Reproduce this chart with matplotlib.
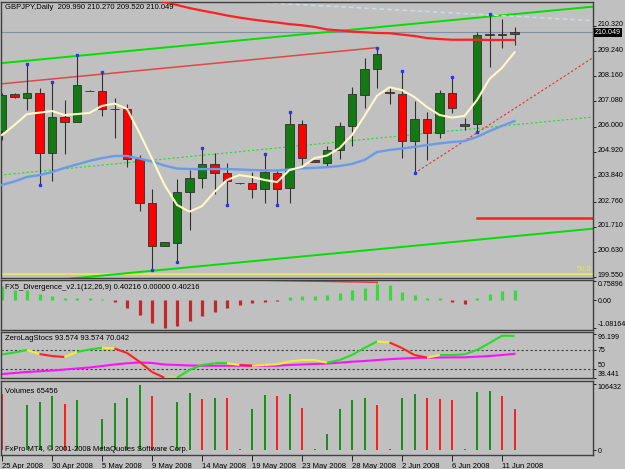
import numpy as np
import matplotlib
matplotlib.use('Agg')
import matplotlib.pyplot as plt
from matplotlib.collections import LineCollection
from matplotlib.transforms import ScaledTranslation

plt.rcParams['font.family'] = ['Liberation Sans', 'DejaVu Sans']

W, H = 625, 469
BG = '#C0C0C0'
FS = 5.5
TFS = 5.1  # right-hand scale labels, narrow column

# daily bars, MT4 keeps the short Sunday bars
tick_bars = [0, 4, 8, 12, 16, 20, 24, 28, 32, 36, 40]
tick_dates = ['25 Apr 2008', '30 Apr 2008', '5 May 2008', '9 May 2008', '14 May 2008',
              '19 May 2008', '23 May 2008', '28 May 2008', '2 Jun 2008', '6 Jun 2008',
              '11 Jun 2008']

opens = [205.83, 207.38, 207.22, 207.43, 204.88, 206.43, 206.19, 207.55, 207.54, 206.75,
         206.76, 204.60, 202.74, 200.88, 201.02, 203.18, 203.81, 204.38, 204.00, 203.57,
         203.57, 203.31, 204.02, 203.35, 206.10, 204.55, 204.45, 205.00, 206.03, 207.36,
         208.46, 207.50, 207.40, 205.38, 206.32, 205.74, 207.43, 206.03, 206.10, 209.95,
         209.93, 209.990]
highs = [207.45, 207.46, 208.69, 207.65, 207.93, 207.14, 209.08, 207.56, 208.36, 207.22,
         206.97, 204.78, 203.31, 201.05, 203.74, 204.14, 205.07, 204.86, 204.43, 203.58,
         204.07, 204.83, 204.17, 206.62, 206.29, 204.56, 205.18, 206.21, 207.71, 208.93,
         209.39, 207.69, 208.40, 207.11, 206.64, 207.57, 208.14, 206.36, 210.05, 210.82,
         210.61, 210.270]
lows = [205.43, 207.21, 206.71, 203.50, 203.68, 204.83, 206.18, 207.52, 206.46, 205.50,
        204.26, 202.39, 199.85, 200.87, 200.20, 201.56, 203.38, 203.10, 202.64, 203.55,
        202.92, 202.74, 202.64, 202.74, 204.21, 204.49, 204.28, 204.61, 205.18, 206.79,
        207.67, 206.96, 204.64, 204.00, 204.57, 205.50, 206.57, 205.86, 205.78, 208.57,
        209.36, 209.520]
closes = [207.36, 207.27, 207.43, 204.88, 206.43, 206.19, 207.79, 207.54, 206.74, 206.76,
          204.61, 202.74, 200.89, 201.04, 203.18, 203.81, 204.38, 204.00, 203.67, 203.565,
          203.31, 204.07, 203.32, 206.10, 204.67, 204.50, 205.00, 206.04, 207.40, 208.47,
          209.12, 207.43, 205.38, 206.32, 205.74, 207.43, 206.79, 206.10, 209.93, 209.96,
          209.99, 210.049]

ma_fast = [205.64, 206.07, 206.54, 206.60, 206.67, 206.50, 206.54, 206.59, 206.89, 206.99,
           206.76, 205.73, 204.63, 203.50, 202.64, 202.35, 202.59, 203.20, 203.71, 203.92,
           203.84, 203.71, 203.62, 204.14, 204.27, 204.65, 204.76, 205.08, 205.64, 206.46,
           207.32, 207.69, 207.57, 207.27, 206.84, 206.50, 206.39, 206.46, 207.14, 208.05,
           208.52, 209.19]
ma_mid = [203.50, 203.65, 203.84, 203.92, 204.05, 204.23, 204.38, 204.53, 204.65, 204.74,
          204.74, 204.63, 204.50, 204.33, 204.20, 204.18, 204.18, 204.18, 204.18, 204.16,
          204.14, 204.12, 204.12, 204.16, 204.21, 204.23, 204.26, 204.31, 204.40, 204.57,
          204.91, 205.00, 205.06, 205.13, 205.21, 205.28, 205.34, 205.38, 205.56, 205.81,
          206.03, 206.24]
ma_slow = [212.85, 212.74, 212.64, 212.51, 212.40, 212.29, 212.16, 212.04, 211.93, 211.82,
           211.69, 211.56, 211.46, 211.35, 211.22, 211.09, 210.98, 210.88, 210.77, 210.68,
           210.60, 210.53, 210.47, 210.40, 210.35, 210.28, 210.17, 210.13, 210.08, 210.05,
           210.02, 210.01, 209.95, 209.89, 209.80, 209.76, 209.73, 209.73, 209.73, 209.72,
           209.72, 209.72]

# hand-drawn objects: (bar, price) end points
channel_top = [(-0.16, 208.72), (47.28, 211.15)]
channel_bottom = [(-0.16, 199.19), (47.28, 201.62)]
channel_mid = [(-0.16, 203.92), (47.28, 206.41)]
line_to_high = [(-0.16, 207.83), (30, 209.39)]
line_cyan = [(18, 211.41), (47.28, 210.55)]
line_from_low = [(33, 204.00), (47.28, 208.96)]
level_red = [(38, 202.09), (47.28, 202.09)]
level_fibo = 199.676
bid = 210.049

fractal_up = [2, 4, 6, 8, 16, 21, 23, 30, 32, 36, 39]
fractal_down = [3, 12, 14, 18, 22, 33, 38]

price_ticks = [210.320, 209.240, 208.160, 207.080, 206.000, 204.920, 203.840,
               202.760, 201.710, 200.630, 199.550]

div_hist = [0.55, 0.39, 0.39, 0.22, 0.17, 0.09, 0.07, 0.06, 0.05, -0.09,
            -0.30, -0.59, -0.91, -1.08164, -1.00, -0.82, -0.62, -0.46, -0.32, -0.20,
            -0.13, -0.07, -0.05, 0.11, 0.14, 0.14, 0.20, 0.27, 0.39, 0.46,
            0.61, 0.59, 0.32, 0.20, 0.07, 0.06, -0.07, -0.17, 0.07, 0.22,
            0.35, 0.40216]
div_line = [(16, 0.81), (30, 0.69)]

stoch_main = [69.1, 71.7, 75.0, 69.7, 67.1, 65.8, 72.4, 75.7, 78.0, 77.0,
              71.1, 59.6, 46.1, 38.441, 38.6, 48.7, 55.3, 57.5, 57.5, 55.3,
              54.3, 55.3, 56.2, 59.9, 61.8, 61.8, 58.3, 61.8, 68.4, 77.6,
              86.2, 84.9, 77.6, 68.4, 64.9, 68.4, 68.4, 69.3, 75.0, 84.2,
              93.8, 93.574]
# colour of the segment that ends at each bar (first entry unused)
stoch_col = ['g', 'g', 'g', 'y', 'r', 'r', 'y', 'g', 'g', 'y',
             'r', 'r', 'r', 'r', 'y', 'g', 'g', 'g', 'g', 'y',
             'r', 'y', 'y', 'y', 'y', 'y', 'y', 'g', 'g', 'g',
             'g', 'y', 'r', 'r', 'r', 'y', 'g', 'g', 'g', 'g',
             'g', 'g']
stoch_signal = [43.4, 44.7, 46.1, 47.0, 48.0, 49.3, 50.7, 52.0, 53.9, 55.9,
                57.5, 58.6, 57.9, 55.9, 55.3, 54.6, 54.3, 54.3, 54.3, 54.3,
                54.3, 54.3, 54.3, 55.3, 55.9, 56.6, 57.2, 58.3, 59.6, 60.5,
                61.8, 62.9, 63.8, 64.5, 64.9, 65.1, 65.3, 65.4, 66.2, 67.1,
                68.4, 70.042]

volumes = [90000, 1200, 72400, 77200, 86800, 74000, 79900, 1500, 49900, 75100,
           84100, 104500, 86800, 1500, 77700, 91700, 81500, 84100, 83100, 1300,
           65900, 88400, 86800, 89600, 67500, 1400, 25700, 65500, 80400, 83100,
           71900, 1800, 84100, 89600, 83100, 81500, 81000, 1500, 92800, 95400,
           86800, 65456]

n = len(closes)
idx = np.arange(n)
o, h, l, c = map(np.array, (opens, highs, lows, closes))

fig = plt.figure(figsize=(W / 100, H / 100), dpi=100, facecolor=BG)


def panel(top, bottom):
    ax = fig.add_axes([1 / W, 1 - bottom / H, 592 / W, (bottom - top) / H], facecolor=BG)
    for s in ax.spines.values():
        s.set_color('#404040')
        s.set_linewidth(1.0)
    ax.set_xlim(-0.08, 47.28)
    ax.yaxis.tick_right()
    ax.tick_params(axis='y', length=2.5, width=0.7, color='#202020', labelsize=TFS, pad=0.8)
    ax.tick_params(axis='x', bottom=False, labelbottom=False)
    return ax


# ---- price panel
ax = panel(1.5, 277.5)
ax.set_ylim(199.525, 211.371)

ax.axhline(bid, color='#8090A0', lw=0.8, zorder=1)
ax.axhline(level_fibo, color='#E6E070', lw=1.5, zorder=1)
ax.text(0.998, level_fibo + 0.05, '50.0', color='#E6E070', fontsize=FS, ha='right',
        va='bottom', transform=ax.get_yaxis_transform())

for pts, col, ls, lw in [(channel_top, '#00E000', '-', 1.4),
                         (channel_bottom, '#00E000', '-', 1.4),
                         (channel_mid, '#20E020', (0, (2, 2)), 0.8),
                         (line_to_high, '#E04848', '-', 1.1),
                         (line_cyan, '#C8DCE8', (0, (3, 2)), 1.1),
                         (line_from_low, '#E03030', (0, (2, 2)), 0.8),
                         (level_red, '#FF2020', '-', 1.8)]:
    xs, ys = zip(*pts)
    ax.plot(xs, ys, color=col, ls=ls, lw=lw, zorder=2)

body_col = np.where(c >= o, '#137A13', '#FF0000')
ax.vlines(idx, l, h, color='#303030', lw=0.8, zorder=3)
ax.bar(idx, np.maximum(np.abs(c - o), 0.01), bottom=np.minimum(o, c), width=0.68,
       color=body_col, edgecolor='#303030', linewidth=0.6, zorder=4)
ax.plot(fractal_up, h[fractal_up], 's', ms=1.6, color='#2838E8', zorder=5)
ax.plot(fractal_down, l[fractal_down], 's', ms=1.6, color='#2838E8', zorder=5)

ax.plot(idx, ma_slow, color='#FF2020', lw=1.6, zorder=6)
ax.plot(idx, ma_mid, color='#6A9BE8', lw=1.7, zorder=6)
ax.plot(idx, ma_fast, color='#FFF8C8', lw=1.5, zorder=6)

ax.set_yticks(price_ticks)
ax.set_yticklabels(['%.3f' % v for v in price_ticks])
# MT4 draws the price labels a little above their grid value
lift = ScaledTranslation(0, 1.5 / 72, fig.dpi_scale_trans)
for t in ax.get_yticklabels():
    t.set_transform(t.get_transform() + lift)
ax.text(1.0035, bid, '%.3f' % bid, color='white', fontsize=TFS, va='center', ha='left',
        transform=ax.get_yaxis_transform(), clip_on=False, zorder=9,
        bbox=dict(fc='black', ec='none', pad=0.5))
ax.text(4 / 592, 1 - 6 / 276, 'GBPJPY,Daily  209.990 210.270 209.520 210.049',
        transform=ax.transAxes, fontsize=FS, va='center', ha='left', zorder=8)

# ---- divergence panel
ad = panel(279.5, 330)
ad.set_ylim(-1.17, 0.80)
dh = np.array(div_hist)
ad.vlines(idx, 0, dh, colors=np.where(dh >= 0, '#3AD83A', '#C0282E'), lw=2.3)
xs, ys = zip(*div_line)
ad.plot(xs, ys, color='#F03030', lw=1.0)
ad.text(30, 0.70, '\u2193', color='#F03030', fontsize=6, ha='center', va='center')
ad.set_yticks([0.75896, 0.0, -1.08164])
ad.set_yticklabels(['0.75896', '0.00', '-1.08164'])
tl = ad.get_yticklabels()
tl[0].set_va('top')
tl[2].set_va('bottom')
ad.text(4 / 592, 0.84, 'FX5_Divergence_v2.1(12,26,9) 0.40216 0.00000 0.40216',
        transform=ad.transAxes, fontsize=FS, va='center', ha='left')

# ---- stochastic panel
ast = panel(332, 378.3)
ast.set_ylim(37.76, 98.68)
ast.axhline(75, color='#404040', ls=(0, (2, 2)), lw=0.8)
ast.axhline(50, color='#404040', ls=(0, (2, 2)), lw=0.8)
ast.plot(idx, stoch_signal, color='#FF10FF', lw=1.5)
cmap = {'g': '#20E020', 'y': '#F0F030', 'r': '#FF2020'}
segs = [[(i - 1, stoch_main[i - 1]), (i, stoch_main[i])] for i in range(1, n)]
ast.add_collection(LineCollection(segs, colors=[cmap[k] for k in stoch_col[1:]], lw=1.5))
ast.set_yticks([96.199, 75, 50, 38.441])
ast.set_yticklabels(['96.199', '75', '50', '38.441'])
tl = ast.get_yticklabels()
tl[0].set_va('top')
tl[2].set_va('bottom')
tl[3].set_va('bottom')
ast.text(4 / 592, 0.86, 'ZeroLagStocs 93.574 93.574 70.042',
         transform=ast.transAxes, fontsize=FS, va='center', ha='left')

# ---- volume panel
av = panel(381, 454.5)
av.set_ylim(-7236, 110952)
vol = np.array(volumes)
up = np.r_[False, vol[1:] > vol[:-1]]
av.vlines(idx, 0, vol, colors=np.where(up, '#0A8A0A', '#FF1010'), lw=1.3)
av.set_yticks([106432, 0])
av.set_yticklabels(['106432', '0'])
av.get_yticklabels()[0].set_va('top')
av.text(4 / 592, 1 - 10 / 73.5, 'Volumes 65456',
        transform=av.transAxes, fontsize=FS, va='center', ha='left')
av.text(4 / 592, 1 - 68 / 73.5, 'FxPro MT4, \u00a9 2001-2008 MetaQuotes Software Corp.',
        transform=av.transAxes, fontsize=FS, va='center', ha='left')
av.tick_params(axis='x', bottom=True, labelbottom=True, length=4, width=0.7,
               color='#202020', labelsize=FS, pad=2)
av.set_xticks(tick_bars)
av.set_xticklabels(tick_dates)
for t in av.get_xticklabels():
    t.set_ha('left')

fig.savefig('out.png', dpi=100, facecolor=BG)
